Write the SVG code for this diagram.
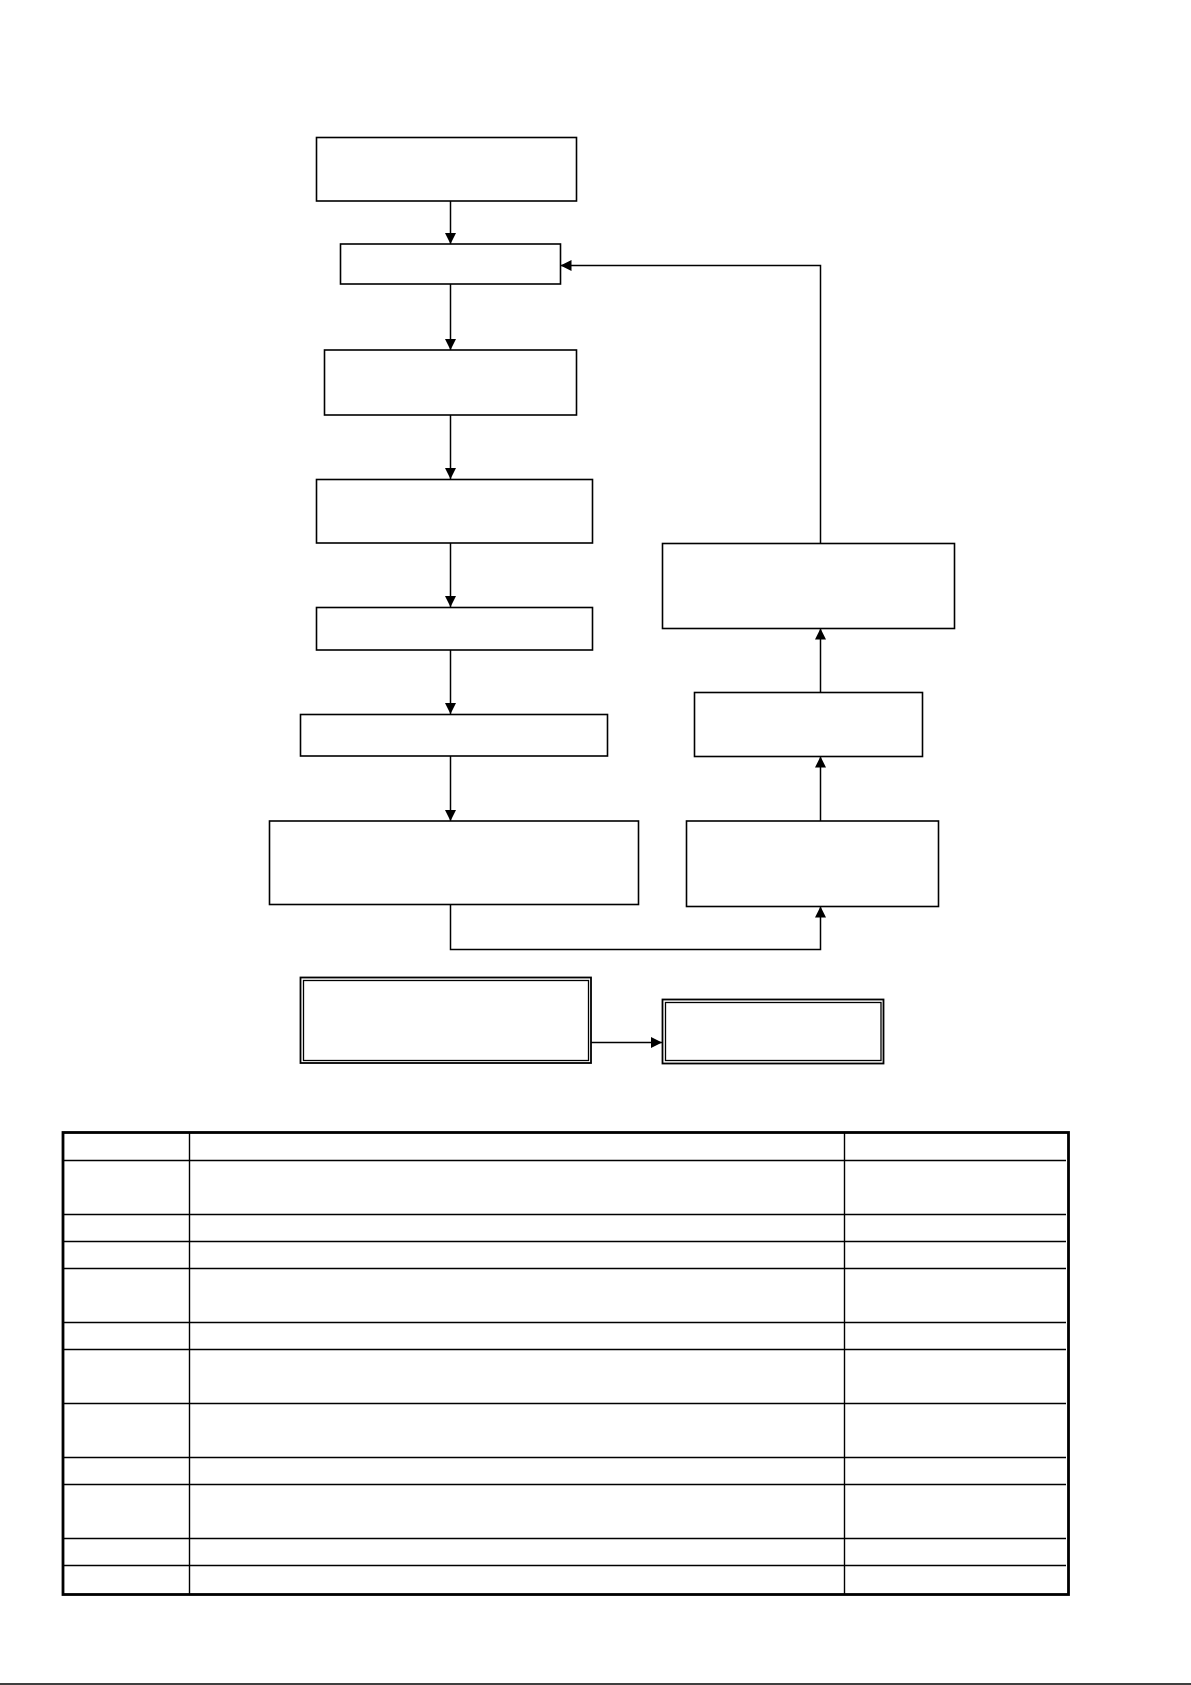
<svg xmlns="http://www.w3.org/2000/svg" width="1191" height="1685" viewBox="0 0 1191 1685">
<style>
.box{fill:#fff;stroke:#000;stroke-width:1.6}
.dbl{fill:none;stroke:#000;stroke-width:1.3}
.con{fill:none;stroke:#000;stroke-width:1.5}
.tb{fill:none;stroke:#000;stroke-width:1.4}
.tbo{fill:none;stroke:#000;stroke-width:2.8}
</style>
<defs>
<marker id="arr" viewBox="0 0 10 10" refX="10" refY="5" markerWidth="11" markerHeight="11" markerUnits="userSpaceOnUse" orient="auto">
<path d="M0,0 L10,5 L0,10 Z" fill="#000"/>
</marker>
</defs>
<rect width="1191" height="1685" fill="#fff"/>
<g id="connectors">
<line class="con" x1="450.5" y1="201" x2="450.5" y2="244" marker-end="url(#arr)"/>
<line class="con" x1="450.5" y1="284" x2="450.5" y2="350" marker-end="url(#arr)"/>
<line class="con" x1="450.5" y1="415" x2="450.5" y2="479" marker-end="url(#arr)"/>
<line class="con" x1="450.5" y1="543" x2="450.5" y2="607" marker-end="url(#arr)"/>
<line class="con" x1="450.5" y1="650" x2="450.5" y2="714" marker-end="url(#arr)"/>
<line class="con" x1="450.5" y1="756" x2="450.5" y2="821" marker-end="url(#arr)"/>
<polyline class="con" points="450.5,904 450.5,949.5 820.5,949.5 820.5,906.5" marker-end="url(#arr)"/>
<line class="con" x1="820.5" y1="821" x2="820.5" y2="756.5" marker-end="url(#arr)"/>
<line class="con" x1="820.5" y1="692" x2="820.5" y2="628.5" marker-end="url(#arr)"/>
<polyline class="con" points="820.5,543 820.5,265.5 560.5,265.5" marker-end="url(#arr)"/>
<line class="con" x1="591" y1="1042.5" x2="662" y2="1042.5" marker-end="url(#arr)"/>
</g>
<g id="n1"><rect class="box" x="316.5" y="137.5" width="260" height="63.5"/></g>
<g id="n2"><rect class="box" x="340.5" y="244" width="220" height="40"/></g>
<g id="n3"><rect class="box" x="324.5" y="350" width="252" height="65"/></g>
<g id="n4"><rect class="box" x="316.5" y="479.5" width="276" height="63.5"/></g>
<g id="n5"><rect class="box" x="316.5" y="607.5" width="276" height="42.5"/></g>
<g id="n6"><rect class="box" x="300.5" y="714.5" width="307" height="41.5"/></g>
<g id="n7"><rect class="box" x="269.5" y="821" width="369" height="83.5"/></g>
<g id="n8"><rect class="box" x="662.5" y="543.5" width="292" height="85"/></g>
<g id="n9"><rect class="box" x="694.5" y="692.5" width="228" height="64"/></g>
<g id="n10"><rect class="box" x="686.5" y="821" width="252" height="85.5"/></g>
<g id="n11">
<rect class="dbl" x="300.5" y="977.5" width="290.5" height="85.5" style="stroke-width:1.8"/>
<rect class="dbl" x="303.5" y="980.5" width="285" height="80"/>
</g>
<g id="n12">
<rect class="dbl" x="662.5" y="999.5" width="221" height="64" style="stroke-width:1.8"/>
<rect class="dbl" x="665.5" y="1002.5" width="215.5" height="58"/>
</g>
<g id="table">
<line class="tb" x1="189.5" y1="1132" x2="189.5" y2="1595"/>
<line class="tb" x1="844.5" y1="1132" x2="844.5" y2="1595"/>
<line class="tb" x1="63" y1="1160.5" x2="1066" y2="1160.5"/>
<line class="tb" x1="63" y1="1214.5" x2="1066" y2="1214.5"/>
<line class="tb" x1="63" y1="1241.5" x2="1066" y2="1241.5"/>
<line class="tb" x1="63" y1="1268.5" x2="1066" y2="1268.5"/>
<line class="tb" x1="63" y1="1322.5" x2="1066" y2="1322.5"/>
<line class="tb" x1="63" y1="1349.5" x2="1066" y2="1349.5"/>
<line class="tb" x1="63" y1="1403.5" x2="1066" y2="1403.5"/>
<line class="tb" x1="63" y1="1457.5" x2="1066" y2="1457.5"/>
<line class="tb" x1="63" y1="1484.5" x2="1066" y2="1484.5"/>
<line class="tb" x1="63" y1="1538.5" x2="1066" y2="1538.5"/>
<line class="tb" x1="63" y1="1565.5" x2="1066" y2="1565.5"/>
<rect class="tbo" x="63" y="1132.5" width="1005.5" height="462"/>
</g>
<line x1="0" y1="1684" x2="1191" y2="1684" stroke="#000" stroke-width="1.5"/>
</svg>
